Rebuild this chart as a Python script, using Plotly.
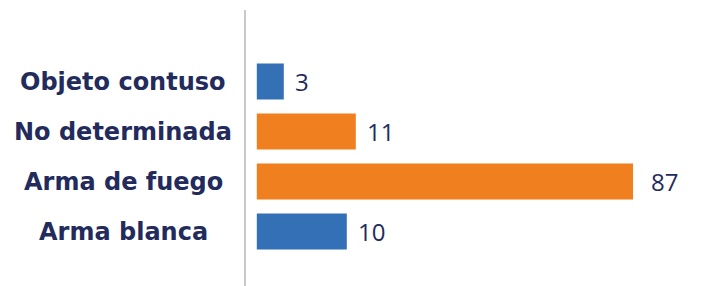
import plotly.graph_objects as go

categories = ["Arma blanca", "Arma de fuego", "No determinada", "Objeto contuso"]
values = [10, 87, 11, 3]
colors = ["#3470b5", "#f07f1f", "#f07f1f", "#3470b5"]

X_MIN, X_MAX = -1.2, 41.8
NAVY = "#222b5c"

fig = go.Figure(go.Bar(
    y=categories,
    x=values,
    orientation="h",
    marker=dict(color=colors, line=dict(width=0)),
    hoverinfo="skip",
))

annotations = []
for c, v in zip(categories, values):
    annotations.append(dict(
        x=min(v, X_MAX), y=c, xref="x", yref="y",
        text=str(v), showarrow=False, xanchor="left", xshift=9 if v <= X_MAX else 16,
        font=dict(family="Open Sans", size=24, color=NAVY),
    ))
    annotations.append(dict(
        x=-0.3176, y=c, xref="x domain", yref="y",
        text="<b>" + c + "</b>", showarrow=False, xanchor="center",
        font=dict(family="DejaVu Sans", size=24, color=NAVY),
    ))

# page body has an 8px default margin; figure is sized/margined to compensate
fig.update_layout(
    width=699, height=278,
    margin=dict(l=238, r=74, t=2, b=0),
    plot_bgcolor="white", paper_bgcolor="white",
    bargap=0.28,
    showlegend=False,
    annotations=annotations,
    xaxis=dict(range=[X_MIN, X_MAX], visible=False, fixedrange=True),
    yaxis=dict(
        type="category", categoryorder="array", categoryarray=categories,
        range=[-1.09, 4.43], showticklabels=False, ticks="",
        showline=True, linecolor="#c9c9c9", linewidth=2, showgrid=False,
        zeroline=False, fixedrange=True,
    ),
)

fig.write_html("out.html")
